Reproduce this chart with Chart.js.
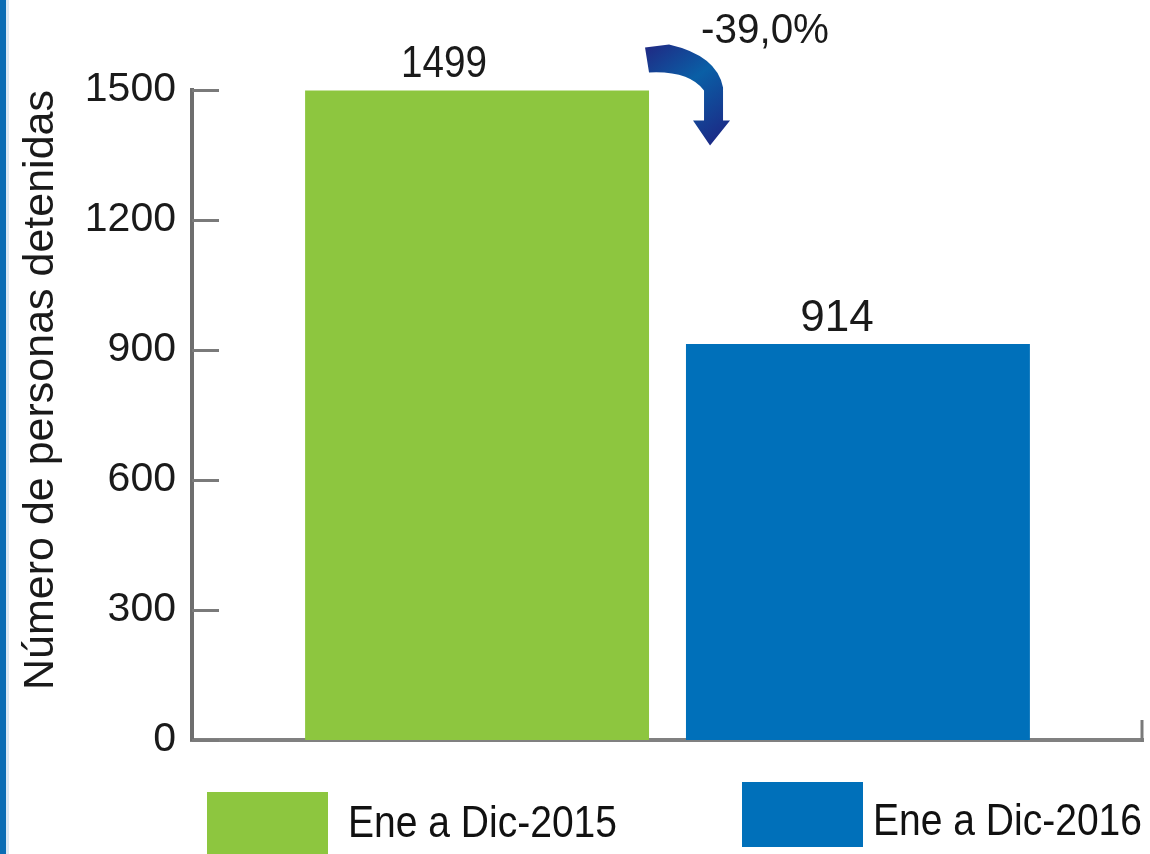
<!DOCTYPE html>
<html>
<head>
<meta charset="utf-8">
<title>Personas detenidas</title>
<script src="https://cdn.jsdelivr.net/npm/chart.js@4.4.1/dist/chart.umd.min.js"></script>
<style>
  html, body { margin: 0; padding: 0; background: #fff; }
  #wrap { position: relative; width: 1150px; height: 854px; }
</style>
</head>
<body>
<div id="wrap"><canvas id="detChart"></canvas></div>
<script>
// Chart data
const categories = ['Ene a Dic'];
const seriesLabels = ['Ene a Dic-2015', 'Ene a Dic-2016'];
const values2015 = [1499];
const values2016 = [914];
const seriesColors = ['#8dc63f', '#0070ba'];
const yTickValues = [0, 300, 600, 900, 1200, 1500];
const changeLabel = '-39,0%';
const yTitle = 'Número de personas detenidas';

const SANS = "'Liberation Sans', Arial, sans-serif";

// Extra drawing: frame stripe, inward ticks, value labels, arrow, legend
const decorPlugin = {
    id: 'decor',
    beforeDraw(chart) {
        const ctx = chart.ctx;
        ctx.save();
        ctx.fillStyle = '#ffffff';
        ctx.fillRect(0, 0, chart.width, chart.height);
        ctx.fillStyle = '#0a6db5';
        ctx.fillRect(0, 0, 6, chart.height);
        ctx.fillStyle = '#dceaf5';
        ctx.fillRect(6, 0, 3, chart.height);
        ctx.restore();
    },
    afterDraw(chart) {
        const ctx = chart.ctx;
        const y = chart.scales.y;
        const area = chart.chartArea;
        ctx.save();

        // inward tick marks on the y axis
        ctx.strokeStyle = '#7a7a7a';
        ctx.lineWidth = 3;
        y.ticks.forEach(t => {
            const py = Math.round(y.getPixelForValue(t.value)) + 0.5;
            ctx.beginPath();
            ctx.moveTo(area.left, py);
            ctx.lineTo(area.left + 27, py);
            ctx.stroke();
        });
        // small end mark on the x axis
        ctx.beginPath();
        ctx.moveTo(area.right - 1, area.bottom + 2);
        ctx.lineTo(area.right - 1, area.bottom - 20);
        ctx.stroke();

        // value labels above bars
        ctx.fillStyle = '#1a1a1a';
        ctx.font = '44px ' + SANS;
        ctx.textAlign = 'center';
        ctx.textBaseline = 'alphabetic';
        const labelShift = [-33, -21];
        chart.data.datasets.forEach((ds, i) => {
            const bar = chart.getDatasetMeta(i).data[0];
            ctx.fillText(String(ds.data[0]), bar.x + labelShift[i], bar.y - 13, 86);
        });

        // curved arrow from the first bar
        const b0 = chart.getDatasetMeta(0).data[0];
        const ax = b0.x + b0.width / 2;
        const ay = b0.y;
        const grad = ctx.createLinearGradient(ax, ay - 45, ax + 70, ay + 50);
        grad.addColorStop(0, '#1f2b85');
        grad.addColorStop(0.45, '#0a5fa6');
        grad.addColorStop(1, '#1c2a86');
        ctx.fillStyle = grad;
        ctx.beginPath();
        ctx.moveTo(ax - 4, ay - 43);
        ctx.lineTo(ax + 20, ay - 46);
        ctx.quadraticCurveTo(ax + 68, ay - 35, ax + 74, ay - 3);
        ctx.lineTo(ax + 74, ay + 30);
        ctx.lineTo(ax + 81, ay + 30);
        ctx.lineTo(ax + 61, ay + 55);
        ctx.lineTo(ax + 44, ay + 30);
        ctx.lineTo(ax + 55, ay + 30);
        ctx.lineTo(ax + 55, ay);
        ctx.quadraticCurveTo(ax + 40, ay - 20, ax, ay - 18);
        ctx.closePath();
        ctx.fill();

        // percentage change text
        ctx.fillStyle = '#1a1a1a';
        ctx.font = '43px ' + SANS;
        ctx.textAlign = 'left';
        ctx.fillText(changeLabel, ax + 52, ay - 47, 128);

        // legend
        const legendItems = [
            { x: 207, y: 792, tx: 348, ty: 837 },
            { x: 742, y: 782, tx: 873, ty: 835 }
        ];
        ctx.font = '44px ' + SANS;
        chart.data.datasets.forEach((ds, i) => {
            const it = legendItems[i];
            ctx.fillStyle = ds.backgroundColor;
            ctx.fillRect(it.x, it.y, 121, 65);
            ctx.fillStyle = '#111';
            ctx.fillText(ds.label, it.tx, it.ty, 269);
        });

        ctx.restore();
    }
};

function createChart() {
    const ctx = document.getElementById('detChart');
    return new Chart(ctx, {
        type: 'bar',
        data: {
            labels: categories,
            datasets: [
                {
                    label: seriesLabels[0],
                    data: values2015,
                    backgroundColor: seriesColors[0],
                    borderWidth: 0
                },
                {
                    label: seriesLabels[1],
                    data: values2016,
                    backgroundColor: seriesColors[1],
                    borderWidth: 0
                }
            ]
        },
        options: {
            responsive: true,
            maintainAspectRatio: false,
            animation: false,
            categoryPercentage: 0.801,
            barPercentage: 0.903,
            layout: {
                padding: { left: 6, right: 7, top: 90, bottom: 114 }
            },
            plugins: {
                legend: { display: false },
                tooltip: { enabled: false }
            },
            scales: {
                x: {
                    grid: { display: false, drawTicks: false },
                    border: { display: true, color: '#808080', width: 4 },
                    ticks: { display: false },
                    afterFit(scale) { scale.height = 0; }
                },
                y: {
                    min: 0,
                    max: 1500,
                    afterBuildTicks(scale) {
                        scale.ticks = yTickValues.map(v => ({ value: v }));
                    },
                    grid: { display: false, drawTicks: false },
                    border: { display: true, color: '#6e6e6e', width: 4 },
                    ticks: {
                        padding: 16,
                        color: '#1a1a1a',
                        font: { family: SANS, size: 41 },
                        callback: v => String(v)
                    },
                    title: {
                        display: true,
                        text: yTitle,
                        align: 'end',
                        color: '#1a1a1a',
                        font: { family: SANS, size: 43, lineHeight: 1 },
                        padding: { top: 14, bottom: 0 }
                    },
                    afterFit(scale) { scale.width = 186; }
                }
            }
        },
        plugins: [decorPlugin]
    });
}

document.addEventListener('DOMContentLoaded', createChart);
</script>
</body>
</html>
